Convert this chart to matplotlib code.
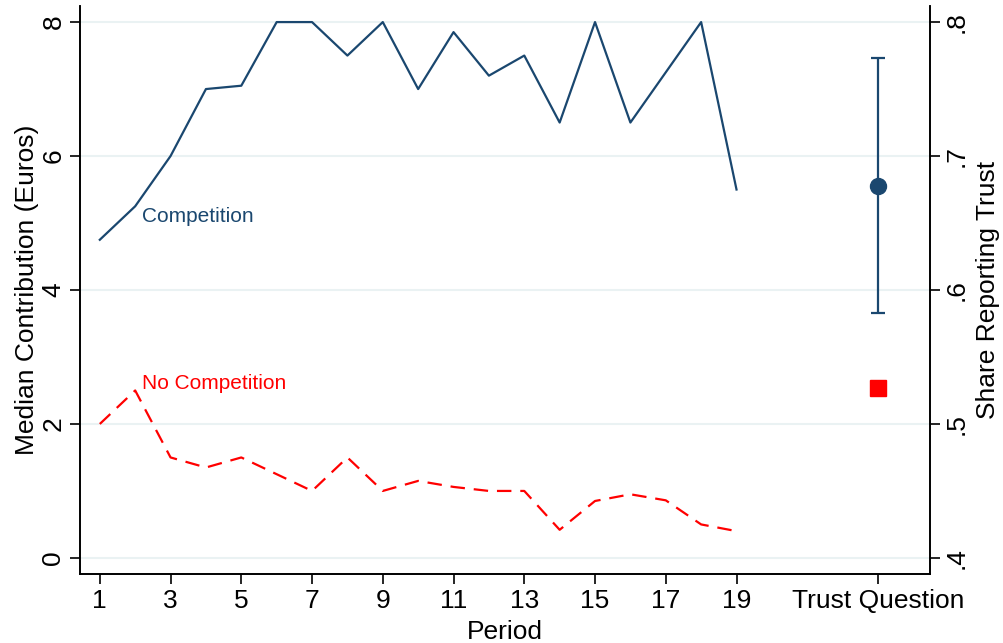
import matplotlib.pyplot as plt

plt.rcParams['font.family'] = ['Liberation Sans', 'DejaVu Sans']

# Median contribution per period
periods = list(range(1, 20))
competition = [4.75, 5.25, 6.0, 7.0, 7.05, 8.0, 8.0, 7.5, 8.0, 7.0,
               7.85, 7.2, 7.5, 6.5, 8.0, 6.5, 7.25, 8.0, 5.5]
no_competition = [2.0, 2.5, 1.5, 1.35, 1.5, 1.25, 1.0, 1.5, 1.0, 1.15,
                  1.06, 1.0, 1.0, 0.42, 0.85, 0.95, 0.86, 0.5, 0.4]

# Share reporting trust (right axis)
trust_x = 23
trust_comp = 0.678
trust_comp_lo = 0.583
trust_comp_hi = 0.773
trust_nocomp = 0.527

xticks = [1, 3, 5, 7, 9, 11, 13, 15, 17, 19, 23]
xticklabels = ['1', '3', '5', '7', '9', '11', '13', '15', '17', '19', 'Trust Question']
left_ticks = [0, 2, 4, 6, 8]
right_ticks = [0.4, 0.5, 0.6, 0.7, 0.8]
right_labels = ['.4', '.5', '.6', '.7', '.8']

navy = '#1A476F'
red = '#FF0000'
grid_col = '#EAF2F3'

fig = plt.figure(figsize=(10.04, 6.43), dpi=100)
ax = fig.add_axes([80 / 1004, 1 - 574 / 643, 850 / 1004, 568 / 643])

ax.plot(periods, competition, color=navy, lw=1.6)
ax.plot(periods, no_competition, color=red, lw=1.6, dashes=(6.5, 4))
ax.text(2.19, 5.1, 'Competition', color=navy, fontsize=15, va='center', ha='left')
ax.text(2.19, 2.61, 'No Competition', color=red, fontsize=15, va='center', ha='left')

ax.set_xlim(0.44, 24.47)
ax.set_ylim(-0.24, 8.24)
ax.set_yticks(left_ticks)
ax.set_yticklabels([str(t) for t in left_ticks], rotation=90, va='center')
ax.set_xticks(xticks)
ax.set_xticklabels(xticklabels)
ax.grid(axis='y', color=grid_col, lw=1.5)
ax.set_axisbelow(True)
ax.set_xlabel('Period', fontsize=19, labelpad=5)
ax.set_ylabel('Median Contribution (Euros)', fontsize=19, labelpad=2)
ax.tick_params(labelsize=19, direction='out', length=7, width=1.2)
ax.spines['top'].set_visible(False)

ax2 = ax.twinx()
ax2.set_ylim(0.4 - 0.24 * 0.05, 0.8 + 0.24 * 0.05)
ax2.errorbar([trust_x], [trust_comp],
             yerr=[[trust_comp - trust_comp_lo], [trust_comp_hi - trust_comp]],
             fmt='o', color=navy, ms=11.5, lw=1.6, capsize=5, capthick=1.6)
ax2.plot([trust_x], [trust_nocomp], 's', color=red, ms=12)
ax2.set_yticks(right_ticks)
ax2.set_yticklabels(right_labels, rotation=90, va='center')
ax2.set_ylabel('Share Reporting Trust', fontsize=19, labelpad=5)
ax2.tick_params(labelsize=19, direction='out', length=7, width=1.2)
ax2.spines['top'].set_visible(False)

for a in (ax, ax2):
    for s in a.spines.values():
        s.set_linewidth(1.2)

fig.savefig('out.png', dpi=100)
